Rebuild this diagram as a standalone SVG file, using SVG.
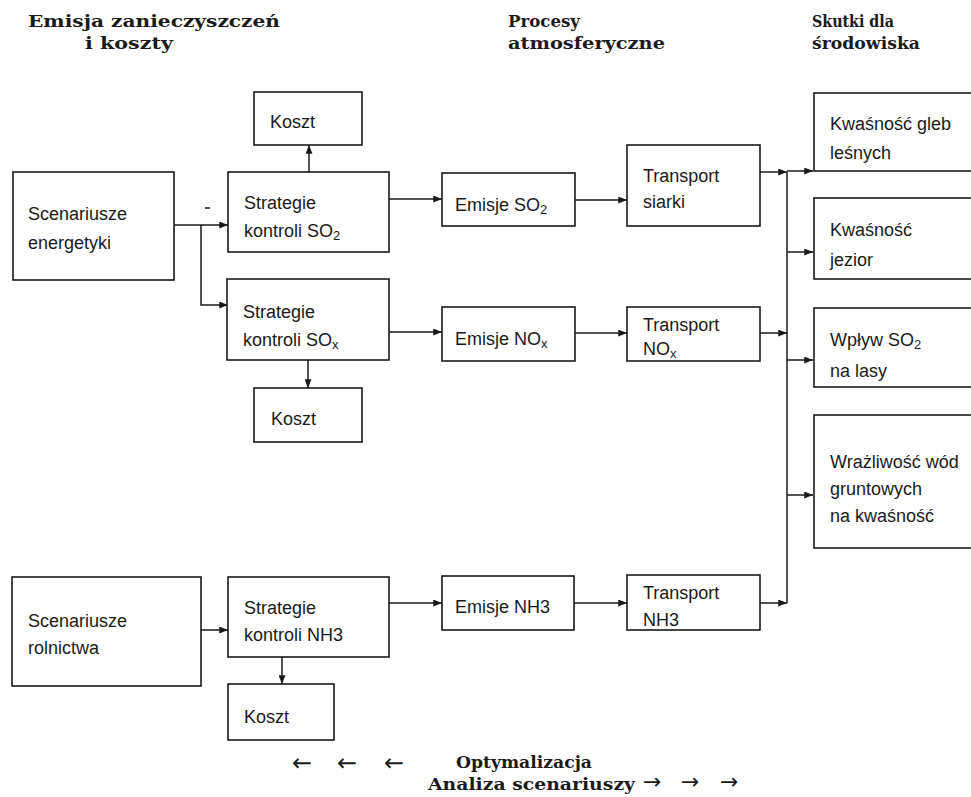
<svg xmlns="http://www.w3.org/2000/svg" width="971" height="797" viewBox="0 0 971 797">
<defs>
<marker id="ah" viewBox="0 0 10 8" refX="10" refY="4" markerWidth="9" markerHeight="7" markerUnits="userSpaceOnUse" orient="auto">
<path d="M0,0 L10,4 L0,8 z" fill="#1a1a1a"/>
</marker>
<style>
.box{fill:#fff;stroke:#1a1a1a;stroke-width:1.6}
.t{font-family:"Liberation Sans",Arial,sans-serif;font-size:18px;fill:#1a1a1a}
.h{font-family:"DejaVu Serif","Liberation Serif",serif;font-size:17px;font-weight:bold;fill:#1a1a1a}
.ar{font-family:"DejaVu Sans",sans-serif;font-size:24px;fill:#1a1a1a}
.ar2{font-family:"DejaVu Sans",sans-serif;font-size:22px;fill:#1a1a1a}
.c{fill:none;stroke:#1a1a1a;stroke-width:1.5}
.a{marker-end:url(#ah)}
.sub{font-size:13px}
</style>
</defs>
<rect width="971" height="797" fill="#fff"/>

<g id="headers">
<text class="h" x="28" y="27" textLength="252" lengthAdjust="spacingAndGlyphs">Emisja zanieczyszczeń</text>
<text class="h" x="85" y="49" textLength="88" lengthAdjust="spacingAndGlyphs">i koszty</text>
<text class="h" x="508" y="27" textLength="72" lengthAdjust="spacingAndGlyphs">Procesy</text>
<text class="h" x="508" y="49" textLength="157" lengthAdjust="spacingAndGlyphs">atmosferyczne</text>
<text class="h" x="812" y="27" textLength="82" lengthAdjust="spacingAndGlyphs">Skutki dla</text>
<text class="h" x="812" y="49" textLength="108" lengthAdjust="spacingAndGlyphs">środowiska</text>
</g>

<g id="connectors">
<path class="c a" d="M174,225 H228"/>
<path class="c a" d="M201,225 V305 H228"/>
<path class="c a" d="M309,172 V145"/>
<path class="c a" d="M389,199 H442"/>
<path class="c a" d="M575,200 H627"/>
<path class="c a" d="M760,172 H787"/>
<path class="c a" d="M389,332 H442"/>
<path class="c a" d="M575,333 H627"/>
<path class="c a" d="M760,333 H787"/>
<path class="c a" d="M308,360 V388"/>
<path class="c a" d="M201,630 H228"/>
<path class="c a" d="M389,603 H442"/>
<path class="c a" d="M574,603 H627"/>
<path class="c a" d="M760,603 H787"/>
<path class="c" d="M787,172 V603"/>
<path class="c a" d="M787,171 H813"/>
<path class="c a" d="M787,252 H813"/>
<path class="c a" d="M787,360 H813"/>
<path class="c a" d="M787,495 H813"/>
<path class="c a" d="M282,657 V684"/>
<path class="c" d="M205,208 H210" stroke-width="1.2"/>
</g>

<g id="koszt1"><rect class="box" x="254" y="92" width="108" height="53"/><text class="t" x="270" y="128">Koszt</text></g>
<g id="scen-energ"><rect class="box" x="13" y="172" width="161" height="108"/><text class="t" x="28" y="220">Scenariusze</text><text class="t" x="28" y="249">energetyki</text></g>
<g id="strat-so2"><rect class="box" x="228" y="172" width="161" height="80"/><text class="t" x="244" y="209">Strategie</text><text class="t" x="244" y="237">kontroli SO<tspan class="sub" dy="3">2</tspan></text></g>
<g id="emisje-so2"><rect class="box" x="442" y="173" width="133" height="53"/><text class="t" x="455" y="211">Emisje  SO<tspan class="sub" dy="3">2</tspan></text></g>
<g id="transport-siarki"><rect class="box" x="627" y="145" width="133" height="81"/><text class="t" x="643" y="182">Transport</text><text class="t" x="643" y="208">siarki</text></g>
<g id="strat-sox"><rect class="box" x="227" y="279" width="162" height="81"/><text class="t" x="243" y="318">Strategie</text><text class="t" x="243" y="346">kontroli  SO<tspan class="sub" dy="3">x</tspan></text></g>
<g id="emisje-nox"><rect class="box" x="442" y="307" width="133" height="54"/><text class="t" x="455" y="345">Emisje NO<tspan class="sub" dy="3">x</tspan></text></g>
<g id="transport-nox"><rect class="box" x="627" y="307" width="133" height="54"/><text class="t" x="643" y="331">Transport</text><text class="t" x="643" y="355">NO<tspan class="sub" dy="3">x</tspan></text></g>
<g id="koszt2"><rect class="box" x="254" y="388" width="108" height="54"/><text class="t" x="271" y="425">Koszt</text></g>

<g id="kwas-gleb"><rect class="box" x="814" y="93" width="170" height="78"/><text class="t" x="830" y="130">Kwaśność  gleb</text><text class="t" x="830" y="159">leśnych</text></g>
<g id="kwas-jezior"><rect class="box" x="814" y="198" width="170" height="81"/><text class="t" x="830" y="236">Kwaśność</text><text class="t" x="830" y="266">jezior</text></g>
<g id="wplyw"><rect class="box" x="814" y="308" width="170" height="79"/><text class="t" x="830" y="346">Wpływ  SO<tspan class="sub" dy="3">2</tspan></text><text class="t" x="830" y="377">na  lasy</text></g>
<g id="wrazliwosc"><rect class="box" x="814" y="415" width="170" height="133"/><text class="t" x="830" y="468">Wrażliwość  wód</text><text class="t" x="830" y="495">gruntowych</text><text class="t" x="830" y="522">na  kwaśność</text></g>

<g id="scen-roln"><rect class="box" x="12" y="577" width="189" height="109"/><text class="t" x="28" y="627">Scenariusze</text><text class="t" x="28" y="654">rolnictwa</text></g>
<g id="strat-nh3"><rect class="box" x="228" y="577" width="161" height="80"/><text class="t" x="244" y="614">Strategie</text><text class="t" x="244" y="641">kontroli  NH3</text></g>
<g id="emisje-nh3"><rect class="box" x="442" y="576" width="132" height="54"/><text class="t" x="455" y="613">Emisje  NH3</text></g>
<g id="transport-nh3"><rect class="box" x="627" y="575" width="133" height="55"/><text class="t" x="643" y="599">Transport</text><text class="t" x="643" y="626">NH3</text></g>
<g id="koszt3"><rect class="box" x="228" y="684" width="106" height="56"/><text class="t" x="244" y="723">Koszt</text></g>

<g id="footer">
<text class="ar" x="292" y="771">←</text>
<text class="ar" x="337" y="771">←</text>
<text class="ar" x="384" y="771">←</text>
<text class="h" x="456" y="768" textLength="136" lengthAdjust="spacingAndGlyphs">Optymalizacja</text>
<text class="h" x="428" y="790" textLength="207" lengthAdjust="spacingAndGlyphs">Analiza scenariuszy</text>
<text class="ar2" x="643" y="789">→</text>
<text class="ar2" x="681" y="789">→</text>
<text class="ar2" x="720" y="789">→</text>
</g>
</svg>
